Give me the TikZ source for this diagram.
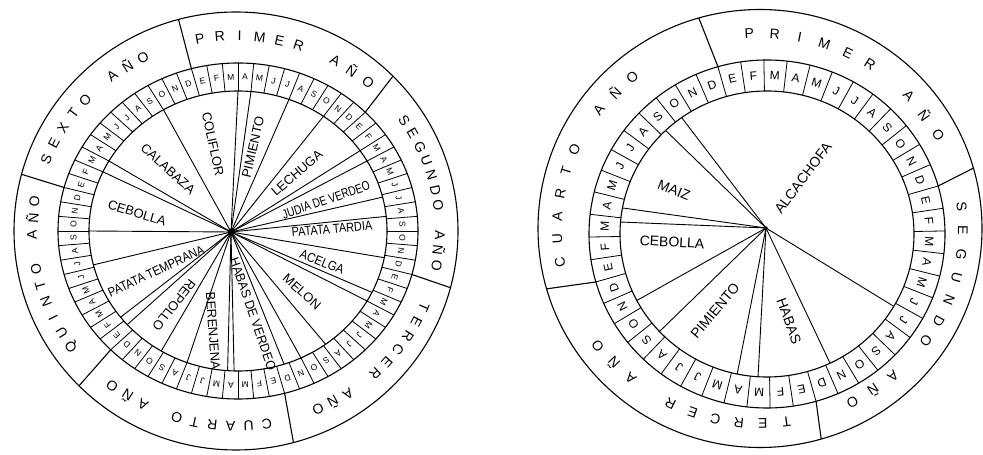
\documentclass[tikz,border=0pt]{standalone}
\usepackage{fontspec}
\setmainfont{Liberation Sans}
\usetikzlibrary{calc}
\newcommand\arcword[6]{% #1 name prefix, #2 centre, #3 start angle, #4 step, #5 radii, #6 letters
  \foreach \c [count=\i from 0] in {#6}{%
    \pgfmathsetmacro\aa{#3-#4*\i}%
    \node[yr, rotate=\aa-90] (#1\i) at ($(#2)+(\aa:#5)$) {\c};%
  }}
\begin{document}
\begin{tikzpicture}[x=1pt,y=1pt,
  ln/.style={line width=1.1pt},
  cell/.style={line width=0.8pt},
  spoke/.style={line width=0.9pt},
  mL/.style={font=\fontsize{8.5}{8.5}\selectfont, inner sep=0pt},
  mR/.style={font=\fontsize{12}{12}\selectfont, inner sep=0pt},
  yr/.style={font=\fontsize{14}{14}\selectfont, inner sep=0pt},
  cropL/.style={font=\fontsize{13}{13}\selectfont, inner sep=0pt},
  cropR/.style={font=\fontsize{14}{14}\selectfont, inner sep=0pt}]
\useasboundingbox[fill=white] (0,0) rectangle (983,455);

%================ LEFT WHEEL =================
\coordinate (LC) at (238,224);
\coordinate (LO) at (236,224);
\coordinate (LH) at (231,223);
\draw[ln] (LO) ellipse [x radius=222pt, y radius=219pt];
\draw[ln] (LC) ellipse [x radius=180pt, y radius=168pt];
\draw[ln] (LC) ellipse [x radius=149pt, y radius=140pt];
\foreach \k in {0,...,71}{
  \pgfmathsetmacro\a{105-5*\k}
  \draw[cell] ($(LC)+(\a:149pt and 140pt)$) -- ($(LC)+(\a:180pt and 168pt)$);
}
\foreach \y in {0,...,5}{
  \foreach \m [count=\i from 0] in {E,F,M,A,M,J,J,A,S,O,N,D}{
    \pgfmathsetmacro\a{102.5-60*\y-5*\i}
    \node[mL, rotate=\a-90] (Lm\y-\i) at ($(LC)+(\a:164.5pt and 154pt)$) {\m};
  }}
\foreach \a in {105,45,-15,-75,-135,-195}
  \draw[ln] ($(LC)+(\a:180pt and 168pt)$) -- ($(LO)+(\a:222pt and 219pt)$);
\arcword{Lp}{LO}{100.2}{5.62}{204pt and 195pt}{P,R,I,M,E,R,{},A,Ñ,O}
\arcword{Ls}{LO}{34.5}{4.47}{204pt and 195pt}{S,E,G,U,N,D,O,{},A,Ñ,O}
\arcword{Lt}{LO}{-22.9}{4.82}{204pt and 195pt}{T,E,R,C,E,R,{},A,Ñ,O}
\arcword{Lc}{LO}{-81.3}{5.12}{204pt and 195pt}{C,U,A,R,T,O,{},A,Ñ,O}
\arcword{Lq}{LO}{216.4}{5.02}{204pt and 195pt}{Q,U,I,N,T,O,{},A,Ñ,O}
\arcword{Lx}{LO}{158.3}{5.15}{204pt and 195pt}{S,E,X,T,O,{},A,Ñ,O}
\foreach \a in {180,155,150,120,90,85,70,55,35,30,14,6,349,194,218,222,239,250,266,268.5,288,295,306,330,334}
  \draw[spoke] (LH) -- ($(LC)+(\a:149pt and 140pt)$);
\fill (LH) circle (3.5pt);
\node[cropL, rotate=-78] (coliflor) at (213,311) {COLIFLOR};
\node[cropL, rotate=-42] (calabaza) at (168,286) {CALABAZA};
\node[cropL, rotate=-17] (cebollaL) at (137,242) {CEBOLLA};
\node[cropL, rotate=77] (pimientoL) at (253,308) {PIMIENTO};
\node[cropL, rotate=41] (lechuga) at (297,282) {LECHUGA};
\node[cropL, rotate=19] (judia) at (326,255) {\scalebox{0.78}[1]{JUDIA DE VERDEO}};
\node[cropL, rotate=5] (ptardia) at (332,226) {\scalebox{0.84}[1]{PATATA TARDIA}};
\node[cropL, rotate=-22] (acelga) at (322,193) {\scalebox{0.88}[1]{ACELGA}};
\node[cropL, rotate=-42] (melon) at (302,163) {MELON};
\node[cropL, rotate=-71] (habasL) at (253,141) {\scalebox{0.95}[1]{HABAS DE VERDEO}};
\node[cropL, rotate=-86] (berenjena) at (213,124) {BERENJENA};
\node[cropL, rotate=232] (repollo) at (174,150) {REPOLLO};
\node[cropL, rotate=25] (ptemprana) at (156,184) {\scalebox{0.86}[1]{PATATA TEMPRANA}};

%================ RIGHT WHEEL =================
\coordinate (RC) at (767,221);
\coordinate (RO) at (760,226.5);
\coordinate (RH) at (766,227);
\draw[ln] (RO) ellipse [x radius=222pt, y radius=219pt];
\draw[ln] (RC) ellipse [x radius=178pt, y radius=174pt];
\draw[ln] (RC) ellipse [x radius=147pt, y radius=143pt];
\foreach \k in {0,...,47}{
  \pgfmathsetmacro\a{106-7.5*\k}
  \draw[cell] ($(RC)+(\a:147pt and 143pt)$) -- ($(RC)+(\a:178pt and 174pt)$);
}
\foreach \y in {0,...,3}{
  \foreach \m [count=\i from 0] in {E,F,M,A,M,J,J,A,S,O,N,D}{
    \pgfmathsetmacro\a{102.25-90*\y-7.5*\i}
    \node[mR, rotate=\a-90] (Rm\y-\i) at ($(RC)+(\a:162.5pt and 158.5pt)$) {\m};
  }}
\foreach \a in {106,16,-74,-164}
  \draw[ln] ($(RC)+(\a:178pt and 174pt)$) -- ($(RO)+(\a:222pt and 219pt)$);
\arcword{Rp}{RO}{93}{7.16}{203pt and 195pt}{P,R,I,M,E,R,{},A,Ñ,O}
\arcword{Rs}{RO}{6.3}{6.92}{203pt and 195pt}{S,E,G,U,N,D,O,{},A,Ñ,O}
\arcword{Rt}{RO}{-82.5}{6.73}{203pt and 195pt}{T,E,R,C,E,R,{},A,Ñ,O}
\arcword{Rc}{RO}{189.9}{6.77}{203pt and 195pt}{C,U,A,R,T,O,{},A,Ñ,O}
\foreach \a in {125.5,133.6,169.5,175.2,207.7,223,258.3,266.5,295.4,329.6}
  \draw[spoke] (RH) -- ($(RC)+(\a:147pt and 143pt)$);
\fill (RH) circle (1.8pt);
\node[cropR, rotate=53] (alcachofa) at (803,277) {ALCACHOFA};
\node[cropR, rotate=-22] (maiz) at (674,265) {MAIZ};
\node[cropR, rotate=-3] (cebollaR) at (672,213) {CEBOLLA};
\node[cropR, rotate=50] (pimientoR) at (715,144) {PIMIENTO};
\node[cropR, rotate=-70] (habasR) at (789,134) {HABAS};
\end{tikzpicture}
\end{document}
